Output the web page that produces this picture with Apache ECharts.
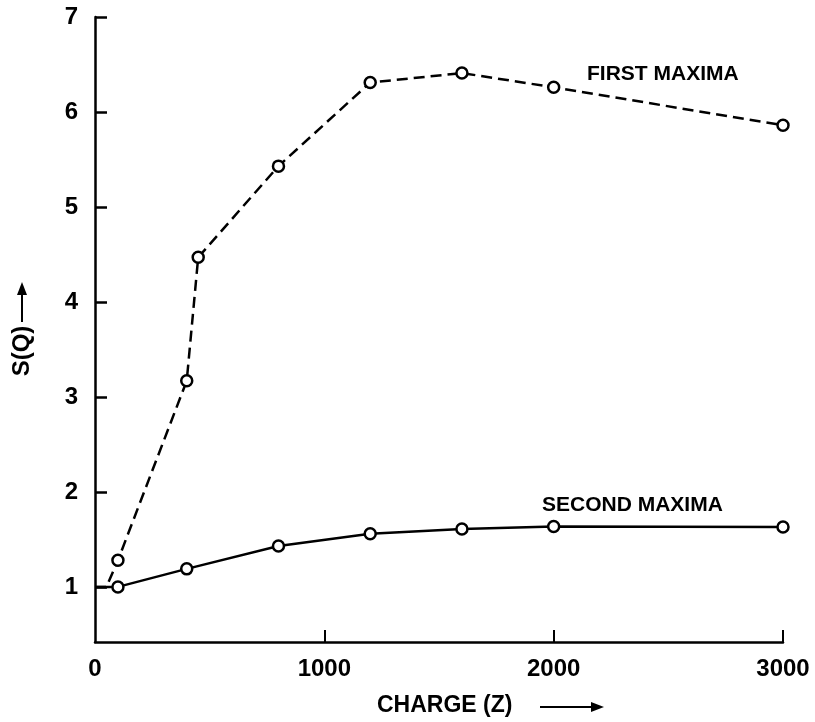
<!DOCTYPE html>
<html>
<head>
<meta charset="utf-8">
<script src="https://cdn.jsdelivr.net/npm/echarts@6/dist/echarts.min.js"></script>
<style>
  html, body { margin: 0; padding: 0; background: #fff; }
  #main { width: 815px; height: 722px; }
</style>
</head>
<body>
<div id="main"></div>
<script>
// charge Z and S(Q)
var zFirst = [0, 50, 100, 400, 450, 800, 1200, 1600, 2000, 3000];
var sFirst = [1.0, 1.0, 1.28, 3.17, 4.47, 5.43, 6.31, 6.41, 6.26, 5.86];
var zSecond = [0, 100, 400, 800, 1200, 1600, 2000, 3000];
var sSecond = [1.0, 1.0, 1.19, 1.43, 1.56, 1.61, 1.635, 1.63];
var xTicks = [0, 1000, 2000, 3000];
var yTicks = [1, 2, 3, 4, 5, 6, 7];

var FONT = 'Liberation Sans, Arial, sans-serif';

function points(xs, ys, bare) {
    // first `bare` points are drawn without a circle
    return xs.map(function (x, i) {
        return {value: [x, ys[i]], symbol: i < bare ? 'none' : 'circle'};
    });
}

var myChart = echarts.init(document.getElementById('main'));
var option = {
    animation: false,
    backgroundColor: '#fff',
    grid: {left: 95, right: 32, top: 17, bottom: 80},
    xAxis: {
        type: 'value',
        min: 0,
        max: 3000,
        interval: 1000,
        splitLine: {show: false},
        axisLine: {lineStyle: {color: '#000', width: 2.5}},
        axisTick: {inside: true, length: 12, lineStyle: {color: '#000', width: 2},
            customValues: xTicks.slice(1)},
        axisLabel: {customValues: xTicks, color: '#000', fontFamily: FONT,
            fontWeight: 'bold', fontSize: 24, margin: 15,
            formatter: function (v) { return String(v); }}
    },
    yAxis: {
        type: 'value',
        min: 0.42,
        max: 7,
        splitLine: {show: false},
        axisLine: {show: true, lineStyle: {color: '#000', width: 2.5}},
        axisTick: {show: true, inside: true, length: 12, lineStyle: {color: '#000', width: 2.5},
            customValues: yTicks},
        axisLabel: {customValues: yTicks, color: '#000', fontFamily: FONT,
            fontWeight: 'bold', fontSize: 24, margin: 17}
    },
    series: [
        {
            name: 'FIRST MAXIMA',
            type: 'line',
            data: points(zFirst, sFirst, 2),
            symbolSize: 11,
            itemStyle: {color: '#fff', borderColor: '#000', borderWidth: 2.5},
            lineStyle: {color: '#000', width: 2.5, type: [11, 6]},
            z: 2
        },
        {
            name: 'SECOND MAXIMA',
            type: 'line',
            data: points(zSecond, sSecond, 1),
            symbolSize: 11,
            itemStyle: {color: '#fff', borderColor: '#000', borderWidth: 2.5},
            lineStyle: {color: '#000', width: 2.5},
            z: 3
        }
    ],
    graphic: [
        {type: 'text', left: 587, top: 64,
            style: {text: 'FIRST MAXIMA', font: 'bold 21px ' + FONT, fill: '#000'}},
        {type: 'text', left: 542, top: 495,
            style: {text: 'SECOND MAXIMA', font: 'bold 21px ' + FONT, fill: '#000'}},
        {type: 'text', left: 377, top: 694,
            style: {text: 'CHARGE (Z)', font: 'bold 23px ' + FONT, fill: '#000'}},
        {type: 'line', shape: {x1: 540, y1: 707, x2: 594, y2: 707},
            style: {stroke: '#000', lineWidth: 2}},
        {type: 'polygon', shape: {points: [[591, 702], [591, 712], [604, 707]]},
            style: {fill: '#000'}},
        {type: 'text', x: 22, y: 351, rotation: Math.PI / 2,
            style: {text: 'S(Q)', font: 'bold 24px ' + FONT, fill: '#000',
                textAlign: 'center', textVerticalAlign: 'middle'}},
        {type: 'line', shape: {x1: 22, y1: 322, x2: 22, y2: 292},
            style: {stroke: '#000', lineWidth: 2}},
        {type: 'polygon', shape: {points: [[17, 295], [27, 295], [22, 282]]},
            style: {fill: '#000'}}
    ]
};
myChart.setOption(option);
</script>
</body>
</html>
